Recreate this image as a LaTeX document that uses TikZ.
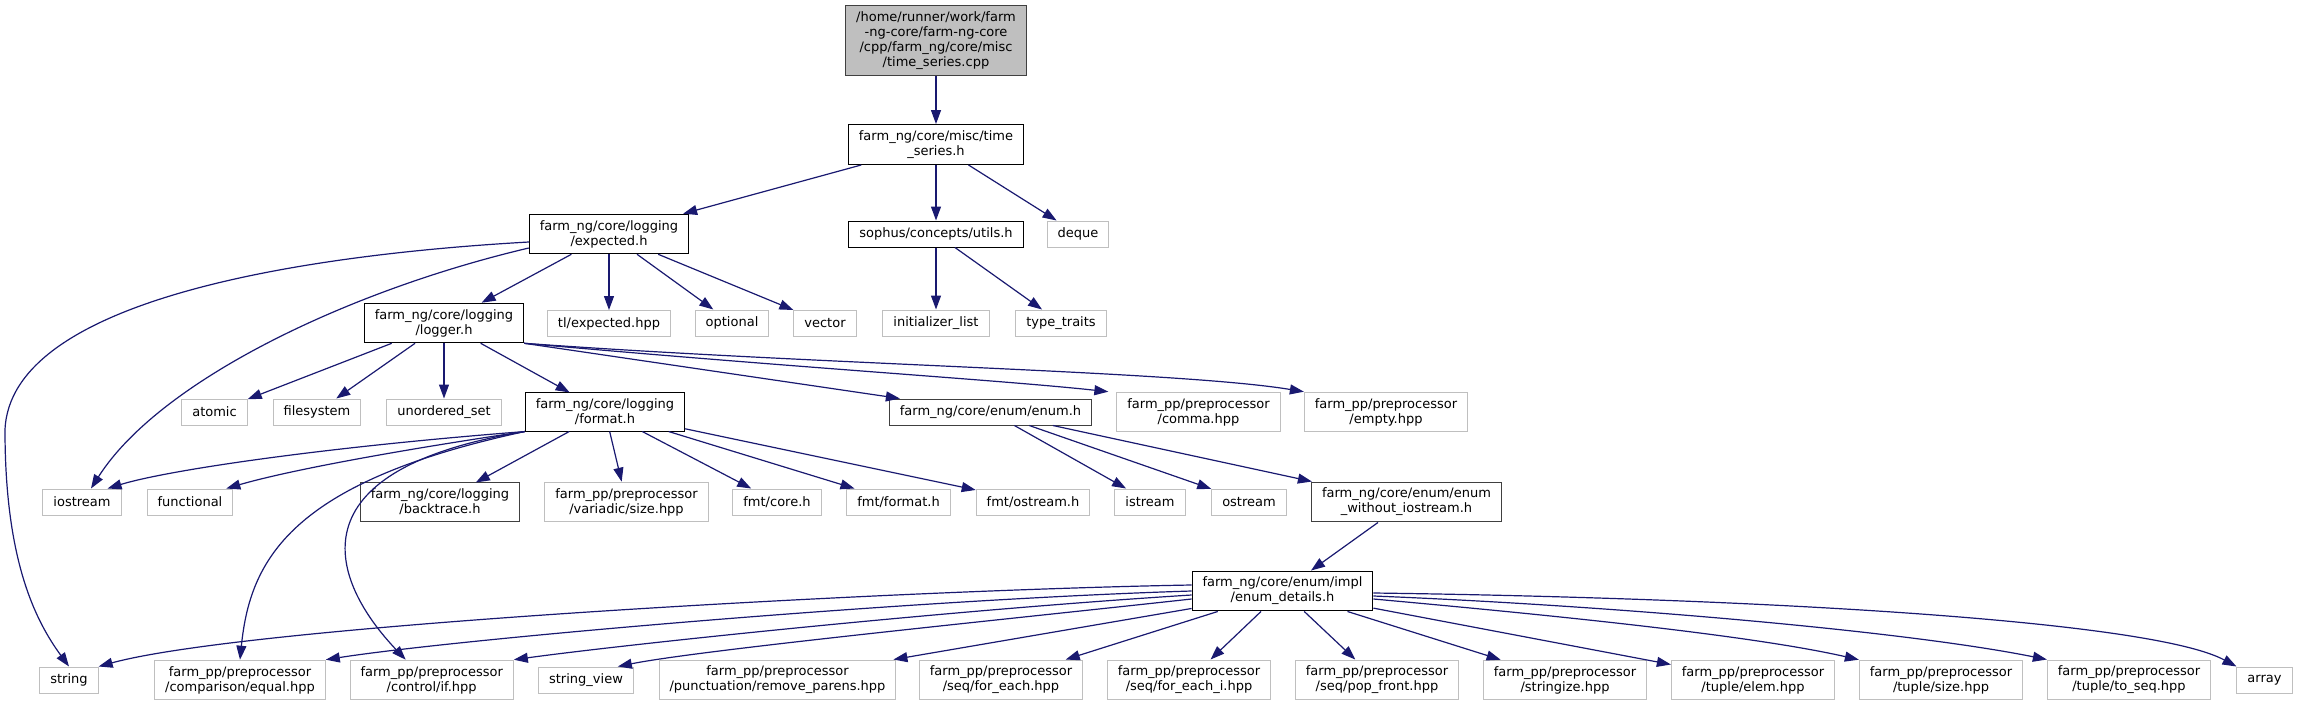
\documentclass[tikz,border=0pt]{standalone}
\usepackage{fontspec}
\setmainfont{DejaVu Sans}
\usepackage{tikz}
\usetikzlibrary{arrows.meta, positioning}
\definecolor{edgeblue}{RGB}{25,25,112}
\definecolor{boxgray}{RGB}{191,191,191}
\definecolor{darkframe}{RGB}{64,64,64}

\begin{document}
\begin{tikzpicture}[
    x=1pt, y=-1pt,
    base node/.style={rectangle,align=center,inner xsep=10.5pt,inner ysep=6pt,minimum height=26pt,line width=1pt,font=\fontsize{13}{15}\selectfont},
    root node/.style={base node,fill=boxgray,draw=darkframe},
    file node/.style={base node,fill=white,draw=black},
    dim node/.style={base node,fill=white,draw=darkframe},
    ext node/.style={base node,fill=white,draw=boxgray},
    arrow/.style={-{Triangle[length=14pt,width=10pt]},draw=edgeblue,line width=1.2pt}
]
\useasboundingbox (0,0) rectangle (2297,707);

% Source file
\node[root node] (root) at (936,40.5) {/home/runner/work/farm\\-ng-core/farm-ng-core\\/cpp/farm\_ng/core/misc\\/time\_series.cpp};
\node[file node] (tseries) at (936,144.5) {farm\_ng/core/misc/time\\\_series.h};

% Second level
\node[file node] (expected) at (609,234) {farm\_ng/core/logging\\/expected.h};
\node[file node] (sophus) at (936,234) {sophus/concepts/utils.h};
\node[ext node] (deque) at (1078,234) {deque};

% Third level
\node[file node] (logger) at (444,323) {farm\_ng/core/logging\\/logger.h};
\node[ext node] (tlexp) at (609,323.5) {tl/expected.hpp};
\node[ext node] (optional) at (732,323) {optional};
\node[ext node] (vector) at (825,323) {vector};
\node[ext node] (initlist) at (936,323) {initializer\_list};
\node[ext node] (typetraits) at (1061,323) {type\_traits};

% Logger includes
\node[ext node] (atomic) at (214.5,412) {atomic};
\node[ext node] (filesystem) at (317,412) {filesystem};
\node[ext node] (uset) at (444,412) {unordered\_set};
\node[file node] (format) at (605,412) {farm\_ng/core/logging\\/format.h};
\node[dim node] (enumh) at (990.5,412) {farm\_ng/core/enum/enum.h};
\node[ext node] (comma) at (1198.5,412) {farm\_pp/preprocessor\\/comma.hpp};
\node[ext node] (empty) at (1386,412) {farm\_pp/preprocessor\\/empty.hpp};

% Format and enum includes
\node[ext node] (iostream) at (82,502) {iostream};
\node[ext node] (functional) at (190,502) {functional};
\node[dim node] (backtrace) at (440,502) {farm\_ng/core/logging\\/backtrace.h};
\node[ext node] (variadic) at (626.5,502) {farm\_pp/preprocessor\\/variadic/size.hpp};
\node[ext node] (fmtcore) at (777,502) {fmt/core.h};
\node[ext node] (fmtformat) at (898.5,502) {fmt/format.h};
\node[ext node] (fmtostream) at (1033,502) {fmt/ostream.h};
\node[ext node] (istream) at (1150,502) {istream};
\node[ext node] (ostream) at (1249,502) {ostream};
\node[dim node] (enumwo) at (1406.5,502) {farm\_ng/core/enum/enum\\\_without\_iostream.h};

% Enum details
\node[file node] (details) at (1282.5,591) {farm\_ng/core/enum/impl\\/enum\_details.h};

% Bottom row
\node[ext node] (string) at (69,680) {string};
\node[ext node] (equal) at (240,680) {farm\_pp/preprocessor\\/comparison/equal.hpp};
\node[ext node] (ctrlif) at (431.7,680) {farm\_pp/preprocessor\\/control/if.hpp};
\node[ext node] (sview) at (586,680) {string\_view};
\node[ext node] (rmparens) at (777.5,680) {farm\_pp/preprocessor\\/punctuation/remove\_parens.hpp};
\node[ext node] (foreach) at (1001,680) {farm\_pp/preprocessor\\/seq/for\_each.hpp};
\node[ext node] (foreachi) at (1189,680) {farm\_pp/preprocessor\\/seq/for\_each\_i.hpp};
\node[ext node] (popfront) at (1377,680) {farm\_pp/preprocessor\\/seq/pop\_front.hpp};
\node[ext node] (stringize) at (1565,680) {farm\_pp/preprocessor\\/stringize.hpp};
\node[ext node] (elem) at (1753,680) {farm\_pp/preprocessor\\/tuple/elem.hpp};
\node[ext node] (tsize) at (1941,680) {farm\_pp/preprocessor\\/tuple/size.hpp};
\node[ext node] (toseq) at (2129,680) {farm\_pp/preprocessor\\/tuple/to\_seq.hpp};
\node[ext node] (array) at (2264.5,680) {array};

% Arrows
\draw[arrow] (root) -- (tseries);
\draw[arrow] (tseries) -- (expected);
\draw[arrow] (tseries) -- (sophus);
\draw[arrow] (tseries) -- (deque);

\draw[arrow] (expected) -- (logger);
\draw[arrow] (expected) -- (tlexp);
\draw[arrow] (expected) -- (optional);
\draw[arrow] (expected) -- (vector);
\draw[arrow] ([yshift=-8pt]expected.west) .. controls (300,255) and (10,300) .. (5,430) .. controls (5,560) and (35,620) .. (string.north);
\draw[arrow] ([yshift=-14pt]expected.west) .. controls (350,290) and (160,380) .. ([xshift=9pt]iostream.north);

\draw[arrow] (sophus) -- (initlist);
\draw[arrow] (sophus) -- (typetraits);

\draw[arrow] (logger) -- (atomic);
\draw[arrow] (logger) -- (filesystem);
\draw[arrow] (logger) -- (uset);
\draw[arrow] (logger) -- (format);
\draw[arrow] (logger.south east) -- ([xshift=11pt]enumh.north west);
\draw[arrow] (logger.south east) .. controls (800,368) and (1000,380) .. ([xshift=-8pt]comma.north west);
\draw[arrow] (logger.south east) .. controls (824,365) and (1178,371) .. (empty.north west);

\draw[arrow] (format.south west) .. controls (325,447) and (168,470) .. ([xshift=-14pt]iostream.north east);
\draw[arrow] (format.south west) .. controls (400,450) and (290,470) .. ([xshift=-7pt]functional.north east);
\draw[arrow] (format.south west) .. controls (290,482) and (250,560) .. (equal.north);
\draw[arrow] (format.south west) .. controls (290,470) and (330,580) .. ([xshift=-26pt]ctrlif.north);
\draw[arrow] (format) -- (backtrace);
\draw[arrow] (format) -- (variadic);
\draw[arrow] (format) -- (fmtcore);
\draw[arrow] (format) -- (fmtformat);
\draw[arrow] (format) -- (fmtostream);

\draw[arrow] (enumh) -- (istream);
\draw[arrow] (enumh) -- (ostream);
\draw[arrow] (enumh) -- (enumwo);
\draw[arrow] (enumwo) -- (details);

\draw[arrow] ([yshift=6pt]details.west) .. controls (900,590) and (250,625) .. (string.north east);
\draw[arrow] (details.west) .. controls (900,600) and (450,640) .. (equal.north east);
\draw[arrow] ([yshift=-4pt]details.west) .. controls (950,610) and (620,645) .. (ctrlif.north east);
\draw[arrow] ([yshift=-8pt]details.west) .. controls (1000,620) and (700,650) .. ([xshift=-16pt]sview.north east);
\draw[arrow] ([yshift=3pt]details.south west) -- ([xshift=-3pt]rmparens.north east);
\draw[arrow] (details) -- (foreach);
\draw[arrow] (details) -- (foreachi);
\draw[arrow] (details) -- (popfront);
\draw[arrow] (details) -- (stringize);
\draw[arrow] (details) -- (elem);
\draw[arrow] ([yshift=-8pt]details.east) .. controls (1550,615) and (1750,635) .. (tsize.north west);
\draw[arrow] ([yshift=-5pt]details.east) .. controls (1600,605) and (1900,630) .. (toseq.north west);
\draw[arrow] ([yshift=-2pt]details.east) .. controls (1750,598) and (2150,620) .. (array.north west);

\end{tikzpicture}
\end{document}
